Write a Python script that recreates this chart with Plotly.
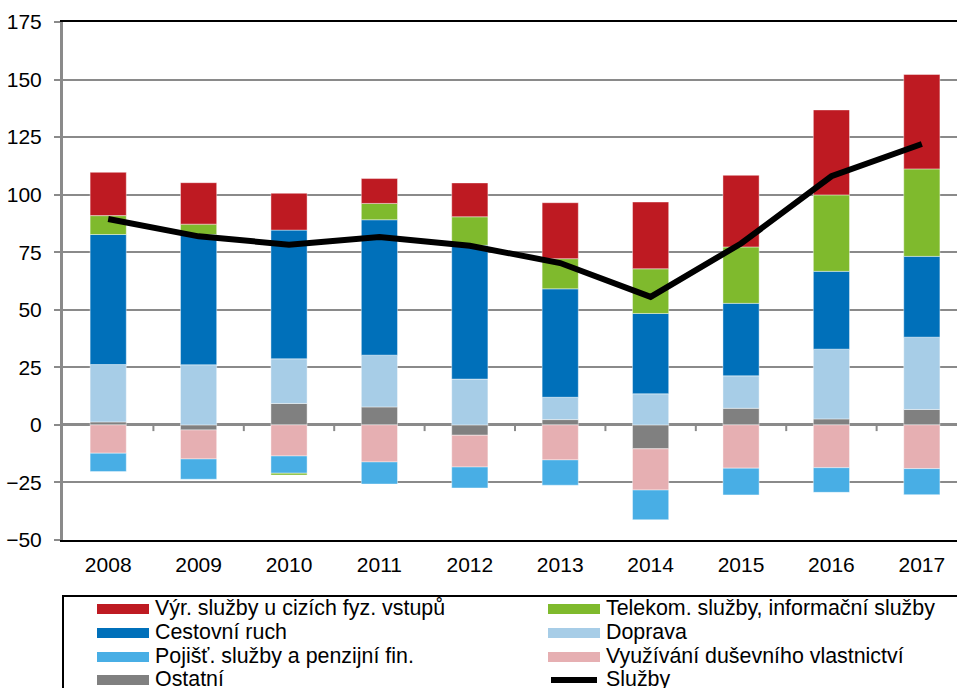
import plotly.graph_objects as go

years = ["2008", "2009", "2010", "2011", "2012", "2013", "2014", "2015", "2016", "2017"]

ostatni = [1.3, -2.2, 9.3, 7.8, -4.5, 2.3, -10.4, 7.2, 2.6, 6.7]
doprava = [24.9, 26.1, 19.4, 22.5, 19.9, 9.7, 13.5, 14.1, 30.3, 31.4]
cestovni = [56.5, 56.6, 55.9, 58.8, 58.1, 47.1, 34.9, 31.5, 33.8, 35.1]
vyuzivani = [-12.3, -12.6, -13.5, -16.1, -13.8, -15.2, -17.9, -18.8, -18.6, -19.0]
pojist = [-8.0, -8.8, -7.5, -9.6, -9.1, -11.0, -12.9, -11.6, -10.7, -11.3]
telekom = [8.2, 4.5, -0.8, 7.1, 12.4, 13.1, 19.4, 24.5, 33.2, 38.0]
vyr = [18.8, 18.0, 16.0, 10.8, 14.7, 24.3, 29.0, 31.1, 36.9, 41.0]
sluzby = [89.4, 81.9, 78.3, 81.6, 77.8, 70.3, 55.6, 78.8, 108.0, 122.0]

names = {
    "vyr": "Výr. služby u cizích fyz. vstupů",
    "telekom": "Telekom. služby, informační služby",
    "cestovni": "Cestovní ruch",
    "doprava": "Doprava",
    "pojist": "Pojišť. služby a penzijní fin.",
    "vyuzivani": "Využívání duševního vlastnictví",
    "ostatni": "Ostatní",
    "sluzby": "Služby",
}
colors = {
    "vyr": "#BE1A22",
    "telekom": "#7FBA2D",
    "cestovni": "#0070BA",
    "doprava": "#A7CDE7",
    "pojist": "#48AEE5",
    "vyuzivani": "#E6AFB2",
    "ostatni": "#808080",
    "sluzby": "#000000",
}

FONT = "Liberation Sans, Arial, sans-serif"
GRID = "#8A8A8A"

fig = go.Figure()
stack = [("ostatni", ostatni), ("doprava", doprava), ("cestovni", cestovni),
         ("vyuzivani", vyuzivani), ("pojist", pojist), ("telekom", telekom), ("vyr", vyr)]
for key, vals in stack:
    fig.add_trace(go.Bar(
        x=years, y=vals, name=names[key],
        marker=dict(color=colors[key], line=dict(color="rgba(255,255,255,0.6)", width=0.7)),
        showlegend=False,
    ))
fig.add_trace(go.Scatter(
    x=years, y=sluzby, name=names["sluzby"], mode="lines",
    line=dict(color="black", width=6), showlegend=False,
))

# zero-line ticks at category boundaries
shapes = []
for k in range(len(years)):
    shapes.append(dict(type="line", xref="x", yref="y", x0=k + 0.5, x1=k + 0.5,
                       y0=0, y1=-2.7, line=dict(color=GRID, width=2), layer="below"))

# custom legend
L, T, W, H = 63, 22, 894, 518


def px(xp):
    return (xp - L) / W


def py(yp):
    return (T + H - yp) / H


shapes.append(dict(type="rect", xref="paper", yref="paper",
                   x0=px(63), x1=px(1100), y0=py(596), y1=py(760),
                   line=dict(color="black", width=2), fillcolor="rgba(0,0,0,0)"))

legend_items = [("vyr", 0, 0), ("telekom", 1, 0), ("cestovni", 0, 1), ("doprava", 1, 1),
                ("pojist", 0, 2), ("vyuzivani", 1, 2), ("ostatni", 0, 3), ("sluzby", 1, 3)]
col_sw = [97, 548]
col_tx = [153, 604]
row_y = [608, 632, 656, 679]
annotations = []
for key, c, r in legend_items:
    yc = row_y[r]
    if key == "sluzby":
        shapes.append(dict(type="line", xref="paper", yref="paper",
                           x0=px(col_sw[c] + 3), x1=px(col_sw[c] + 49), y0=py(yc + 1), y1=py(yc + 1),
                           line=dict(color="black", width=6)))
    else:
        shapes.append(dict(type="rect", xref="paper", yref="paper",
                           x0=px(col_sw[c]), x1=px(col_sw[c] + 52), y0=py(yc - 4), y1=py(yc + 6),
                           line=dict(width=0), fillcolor=colors[key]))
    annotations.append(dict(xref="paper", yref="paper", x=px(col_tx[c]), y=py(yc),
                            text=names[key], showarrow=False, xanchor="left", yanchor="middle",
                            font=dict(family=FONT, size=21.4, color="black")))

fig.update_layout(
    width=957, height=688,
    margin=dict(l=L, r=0, t=T, b=688 - T - H, pad=0, autoexpand=False),
    paper_bgcolor="white", plot_bgcolor="white",
    barmode="relative", bargap=0.6,
    font=dict(family=FONT, size=21, color="black"),
    showlegend=False,
    xaxis=dict(type="category", range=[-0.5, 9.389], showgrid=False, automargin=False,
               showline=True, linecolor="black", linewidth=2, mirror=True,
               ticks="", ticklabelstandoff=5, tickfont=dict(size=21)),
    yaxis=dict(range=[-50, 175], tick0=-50, dtick=25, showgrid=True, gridcolor=GRID, gridwidth=2,
               automargin=False,
               zeroline=True, zerolinecolor=GRID, zerolinewidth=3,
               showline=True, linecolor=GRID, linewidth=3,
               ticks="outside", ticklen=6, tickwidth=2, tickcolor=GRID,
               ticklabelstandoff=8, tickfont=dict(size=21)),
    shapes=shapes, annotations=annotations,
)

fig.write_html(
    "out.html",
    config={"displayModeBar": False},
    post_script="document.body.style.margin='0px';document.body.style.overflow='hidden';",
)
